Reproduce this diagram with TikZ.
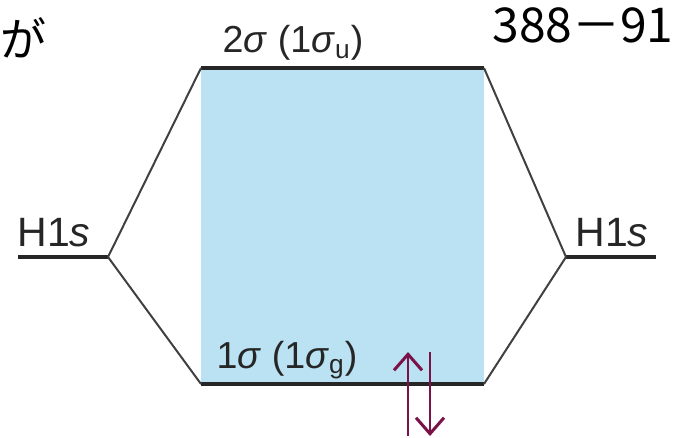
\documentclass[tikz,border=0pt]{standalone}
\usepackage{fontspec}
\setmainfont{Liberation Sans}
\newfontfamily\jpfont{Noto Sans CJK JP}
\usetikzlibrary{arrows.meta, positioning}
\definecolor{orbitalblue}{RGB}{186, 226, 242}
\definecolor{spinmaroon}{RGB}{122, 18, 72}
\begin{document}
\begin{tikzpicture}[x=0.5pt, y=-0.5pt,
    level/.style={line width=2pt, black!85},
    link/.style={line width=1pt, black!75},
    lbl/.style={inner sep=0pt, font=\fontsize{20.5}{24}\selectfont, black!85},
    spin/.style={line width=1.2pt, spinmaroon, -{Straight Barb[length=8pt, width=14pt, line width=1.5pt]}}]
    \useasboundingbox (0,0) rectangle (695,438);
    % MO box
    \fill[orbitalblue] (201,68) rectangle (484,384);

    % levels
    \coordinate (hlA) at (18,257);
    \coordinate (hlB) at (108,257);
    \coordinate (hrA) at (566,257);
    \coordinate (hrB) at (656,257);
    \coordinate (tA) at (201,68);
    \coordinate (tB) at (484,68);
    \coordinate (bA) at (201,384);
    \coordinate (bB) at (484,384);
    \draw[level] (hlA) -- (hlB);
    \draw[level] (hrA) -- (hrB);
    \draw[level] (tA) -- (tB);
    \draw[level] (bA) -- (bB);

    % correlation lines
    \draw[link] (hlB) -- (tA);
    \draw[link] (hlB) -- (bA);
    \draw[link] (hrA) -- (tB);
    \draw[link] (hrA) -- (bB);

    % labels
    \node[lbl, anchor=base west] (hl) at (17,246) {H1\textit{s}};
    \node[lbl, anchor=base west] (hr) at (575,246) {H1\textit{s}};
    \node[lbl, anchor=base, font=\fontsize{18.8}{22}\selectfont] (top) at (293,53) {2\textit{σ} (1\textit{σ}\textsubscript{u})};
    \node[lbl, anchor=base, font=\fontsize{18.8}{22}\selectfont] (bot) at (287,368) {1\textit{σ} (1\textit{σ}\textsubscript{g})};
    \node[inner sep=0pt, anchor=base east, font=\jpfont\fontsize{23}{26}\selectfont] (ga) at (47,57) {が};
    \node[inner sep=0pt, anchor=base west, font=\jpfont\fontsize{24}{28}\selectfont] (num) at (492,43) {388－91};

    % electrons
    \coordinate (upA) at (408,436);
    \coordinate (upB) at (408,352);
    \coordinate (dnA) at (430,352);
    \coordinate (dnB) at (430,436);
    \draw[spin] (upA) -- (upB);
    \draw[spin] (dnA) -- (dnB);
\end{tikzpicture}
\end{document}
